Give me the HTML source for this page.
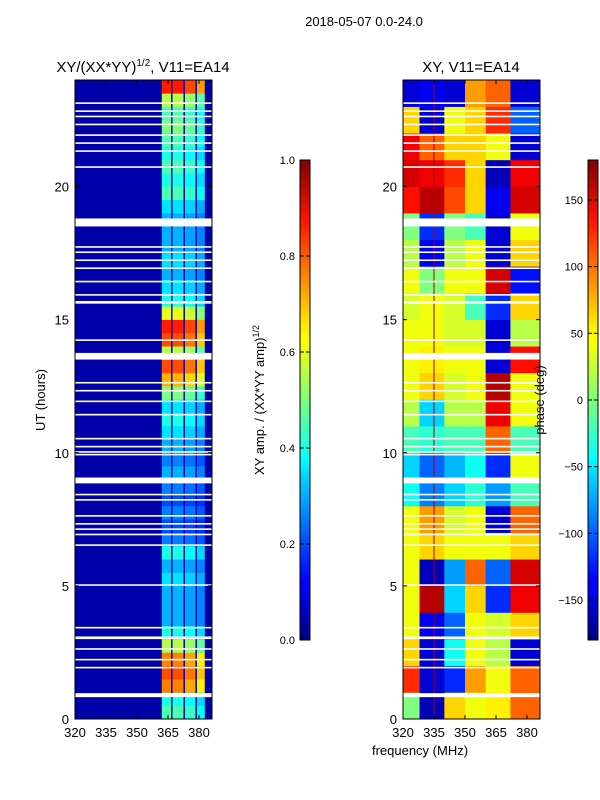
<!DOCTYPE html>
<html><head><meta charset="utf-8"><style>
html,body{margin:0;padding:0;background:#fff;}
svg{display:block;font-family:"Liberation Sans",sans-serif;}
</style></head><body>
<svg id="fig" width="600" height="800" viewBox="0 0 600 800">
<defs>
<linearGradient id="jetV" x1="0" y1="1" x2="0" y2="0">
<stop offset="0" stop-color="#00007f"/><stop offset="0.11" stop-color="#0000ff"/><stop offset="0.125" stop-color="#0000ff"/>
<stop offset="0.34" stop-color="#00d4ff"/><stop offset="0.375" stop-color="#00ffff"/><stop offset="0.5" stop-color="#7dff7a"/>
<stop offset="0.625" stop-color="#ffff00"/><stop offset="0.66" stop-color="#ffe600"/><stop offset="0.875" stop-color="#ff1300"/><stop offset="1" stop-color="#7f0000"/>
</linearGradient>
</defs>
<text x="364" y="26" font-size="13" text-anchor="middle">2018-05-07 0.0-24.0</text>
<text x="143" y="72" font-size="15" text-anchor="middle">XY/(XX*YY)<tspan font-size="10" dy="-6">1/2</tspan><tspan dy="6">, V11=EA14</tspan></text>
<text x="471" y="72" font-size="15" text-anchor="middle">XY, V11=EA14</text>
<g id="left"></g>
<g id="right"></g>
<g id="axes"></g>
<rect x="300" y="160" width="10" height="480" fill="url(#jetV)" stroke="#000" stroke-width="1"/>
<rect x="588" y="160" width="10" height="480" fill="url(#jetV)" stroke="#000" stroke-width="1"/>
<g id="cbticks"></g>
<text transform="translate(264,400) rotate(-90)" font-size="13" text-anchor="middle">XY amp. / (XX*YY amp)<tspan font-size="9" dy="-5">1/2</tspan></text>
<text transform="translate(544,400) rotate(-90)" font-size="13" text-anchor="middle">phase (deg)</text>
<text transform="translate(45,400) rotate(-90)" font-size="13" text-anchor="middle">UT (hours)</text>
<text x="420" y="755" font-size="13" text-anchor="middle">frequency (MHz)</text>
</svg>
<script>
// ---- data ----
const yTicks = [0,5,10,15,20];
const xTicks = [320,335,350,365,380];
const ampTicks = [0.0,0.2,0.4,0.6,0.8,1.0];
const phaseTicks = [-150,-100,-50,0,50,100,150];
// amplitude per half hour, 0..24
const ampRows = [0.45,0.4,0.75,0.8,0.75,0.55,0.4,0.3,0.3,0.3,0.35,0.3,0.4,0.25,0.2,0.25,0.2,0.25,0.3,0.25,0.3,0.35,0.4,0.35,0.5,0.7,0.8,0.55,0.8,0.85,0.6,0.4,0.35,0.3,0.35,0.3,0.3,0.3,0.35,0.45,0.4,0.45,0.4,0.45,0.5,0.45,0.55,0.85];
const ampStrips = [[362,366.5],[367.2,372.5],[373.2,378.3],[379,382.8]];
const stripGain = [1,1,0.95,0.85];
const ampBackground = 0.04;
// phase per hour (rows) for frequency blocks
const phaseBlocks = [[320,328],[328,340],[340,350],[350,360],[360,372],[372,386.3]];
const phaseRows = [
[0,-160,60,40,50,100],[120,-150,-120,80,40,100],[60,-150,-40,40,20,-150],[40,-140,-100,40,30,60],
[40,160,-60,60,-120,140],[40,-160,-80,100,-100,150],[40,60,40,40,40,60],[40,80,30,40,-150,100],
[-40,-90,-60,-30,-80,-20],[-60,-100,-70,-40,-120,40],[-20,-30,-20,-20,100,-20],[20,-60,20,20,140,40],
[40,60,30,40,160,40],[40,50,40,40,-150,130],[40,40,30,30,-150,20],[30,40,30,-20,-120,60],
[40,0,40,40,150,-130],[20,-140,20,40,-150,60],[0,-120,0,-20,-150,40],[130,160,110,60,-140,150],
[150,140,120,60,-160,140],[140,100,60,60,40,-150],[60,-150,40,60,120,-100],[-150,-140,-150,80,100,-150]];
// flagged times [hour, width]
const gaps = [[23.1,0.06],[22.8,0.06],[22.6,0.06],[22.3,0.06],[21.9,0.06],[21.6,0.06],[21.3,0.06],[20.7,0.06],[18.5,0.3],[17.7,0.06],[17.5,0.06],[17.2,0.06],[16.9,0.06],[16.4,0.06],[15.9,0.06],[15.6,0.1],[14.2,0.06],[13.5,0.25],[12.6,0.06],[12.3,0.06],[11.9,0.06],[11.4,0.06],[10.5,0.06],[10.2,0.06],[10.0,0.06],[9.9,0.06],[8.85,0.22],[8.4,0.06],[8.2,0.06],[7.6,0.06],[7.3,0.06],[7.1,0.06],[6.9,0.06],[6.5,0.06],[5.0,0.06],[3.4,0.06],[3.0,0.1],[2.6,0.06],[2.2,0.06],[1.9,0.06],[0.82,0.15]];

// ---- scales ----
const NS='http://www.w3.org/2000/svg';
const Y0=719, Y1=80, TMAX=24;
const yS = h => Y0 - (Y0-Y1)*h/TMAX;
const FMIN=320, FMAX=386.3;
const panels=[{x0:75,x1:212},{x0:403,x1:540}];
const xS = (p,f) => p.x0 + (p.x1-p.x0)*(f-FMIN)/(FMAX-FMIN);
function jet(v){v=Math.max(0,Math.min(1,v));
 const r=Math.max(0,Math.min(1,1.5-Math.abs(4*v-3))),g=Math.max(0,Math.min(1,1.5-Math.abs(4*v-2))),b=Math.max(0,Math.min(1,1.5-Math.abs(4*v-1)));
 return `rgb(${Math.round(r*255)},${Math.round(g*255)},${Math.round(b*255)})`;}
function mk(tag,attrs,parent){const e=document.createElementNS(NS,tag);for(const k in attrs)e.setAttribute(k,attrs[k]);parent.appendChild(e);return e;}

const L=document.getElementById('left'), R=document.getElementById('right'), A=document.getElementById('axes');
let bg=mk('rect',{x:panels[0].x0,y:Y1,width:panels[0].x1-panels[0].x0,height:Y0-Y1,fill:jet(ampBackground)},L);


ampRows.forEach((a,i)=>{
 ampStrips.forEach((s,j)=>{
  const r=mk('rect',{x:xS(panels[0],s[0]),y:yS((i+1)*0.5),width:xS(panels[0],s[1])-xS(panels[0],s[0]),height:yS(i*0.5)-yS((i+1)*0.5)+0.3,fill:jet(a*stripGain[j])},L);
  
  
 });
});
phaseRows.forEach((row,i)=>{
 row.forEach((ph,j)=>{
  const b=phaseBlocks[j];
  const r=mk('rect',{x:xS(panels[1],b[0]),y:yS(i+1),width:xS(panels[1],b[1])-xS(panels[1],b[0])+0.3,height:yS(i)-yS(i+1)+0.3,fill:jet((ph+180)/360)},R);
  
  
 });
});
let vl=mk('line',{x1:xS(panels[1],335),x2:xS(panels[1],335),y1:Y1,y2:Y0,stroke:'#a00',"stroke-width":1},R);


panels.forEach((p,pi)=>{
 gaps.forEach(g=>{
  const r=mk('rect',{x:p.x0,y:yS(g[0]+g[1]),width:p.x1-p.x0,height:Math.max(1.5,yS(g[0])-yS(g[0]+g[1])),fill:'#fff'},pi?R:L);
  
  
 });
});
panels.forEach((p,pi)=>{
 const fr=mk('rect',{x:p.x0,y:Y1,width:p.x1-p.x0,height:Y0-Y1,fill:'none',stroke:'#000','stroke-width':1},A);
 
 
 yTicks.forEach(t=>{
  const y=yS(t);
  mk('line',{x1:p.x0,x2:p.x0+4,y1:y,y2:y,stroke:'#000'},A);
  mk('line',{x1:p.x1,x2:p.x1-4,y1:y,y2:y,stroke:'#000'},A);
  const tx=mk('text',{x:p.x0-6,y:y+5,'font-size':13,'text-anchor':'end'},A);
  tx.textContent=t;
  
  
 });
 xTicks.forEach(t=>{
  const x=xS(p,t);
  mk('line',{x1:x,x2:x,y1:Y0,y2:Y0-4,stroke:'#000'},A);
  mk('line',{x1:x,x2:x,y1:Y1,y2:Y1+4,stroke:'#000'},A);
  const tx=mk('text',{x:x,y:Y0+18,'font-size':13,'text-anchor':'middle'},A);
  tx.textContent=t;
  
  
 });
});
const C=document.getElementById('cbticks');
ampTicks.forEach(t=>{
 const y=640-480*t;
 mk('line',{x1:300,x2:304,y1:y,y2:y,stroke:'#000'},C);
 mk('line',{x1:306,x2:310,y1:y,y2:y,stroke:'#000'},C);
 const tx=mk('text',{x:295,y:y+4,'font-size':11,'text-anchor':'end'},C);
 tx.textContent=t.toFixed(1);
 
 
});
phaseTicks.forEach(t=>{
 const y=640-480*(t+180)/360;
 mk('line',{x1:588,x2:592,y1:y,y2:y,stroke:'#000'},C);
 mk('line',{x1:594,x2:598,y1:y,y2:y,stroke:'#000'},C);
 const tx=mk('text',{x:583,y:y+4,'font-size':11,'text-anchor':'end'},C);
 tx.textContent=t<0?'\u2212'+Math.abs(t):t;
 
 
});
</script>
</body></html>
